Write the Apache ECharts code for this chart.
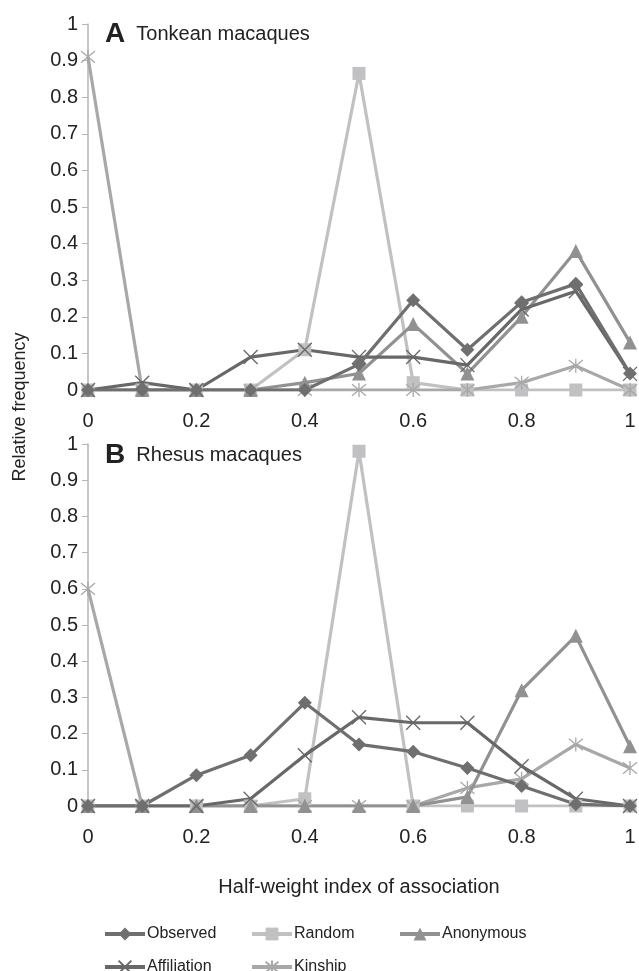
<!DOCTYPE html>
<html>
<head>
<meta charset="utf-8">
<script src="https://cdn.jsdelivr.net/npm/echarts@6/dist/echarts.min.js"></script>
<style>
  html, body { margin: 0; padding: 0; background: #fff; }
  #myChart { width: 639px; height: 971px; }
</style>
</head>
<body>
<div id="myChart"></div>
<script>
// half-weight index bins
const xs = [0, 0.1, 0.2, 0.3, 0.4, 0.5, 0.6, 0.7, 0.8, 0.9, 1];

// A  Tonkean macaques
const tonkeanObserved    = [0, 0, 0, 0, 0, 0.07, 0.245, 0.11, 0.24, 0.29, 0.045];
const tonkeanRandom      = [0, 0, 0, 0, 0.11, 0.865, 0.02, 0, 0, 0, 0];
const tonkeanAnonymous   = [0, 0, 0, 0, 0.02, 0.045, 0.18, 0.045, 0.2, 0.38, 0.13];
const tonkeanAffiliation = [0, 0.02, 0, 0.09, 0.11, 0.09, 0.09, 0.068, 0.22, 0.27, 0.044];
const tonkeanKinship     = [0.91, 0, 0, 0, 0, 0, 0, 0, 0.02, 0.066, 0];

// B  Rhesus macaques
const rhesusObserved    = [0, 0, 0.085, 0.14, 0.285, 0.17, 0.15, 0.105, 0.055, 0.005, 0];
const rhesusRandom      = [0, 0, 0, 0, 0.02, 0.98, 0, 0, 0, 0, 0];
const rhesusAnonymous   = [0, 0, 0, 0, 0, 0, 0, 0.025, 0.32, 0.47, 0.165];
const rhesusAffiliation = [0, 0, 0, 0.02, 0.14, 0.245, 0.23, 0.23, 0.11, 0.02, 0];
const rhesusKinship     = [0.6, 0, 0, 0, 0, 0, 0, 0.05, 0.075, 0.17, 0.105];

const names = ["Observed", "Random", "Anonymous", "Affiliation", "Kinship"];

const font = "Liberation Sans";
const txt = "#222";

// marker look per series
const look = {
  Observed:    { color: "#6f6f6f", symbol: "diamond", size: 14 },
  Random:      { color: "#c1c1c3", symbol: "rect", size: 13 },
  Anonymous:   { color: "#919191", symbol: "triangle", size: 14 },
  Affiliation: { color: "#686868", symbol: "path://M0,0L10,10M10,0L0,10", size: 14, stroke: true },
  Kinship:     { color: "#a8a8a8", symbol: "path://M0,0L10,10M10,0L0,10M5,-1L5,11", size: 14, stroke: true }
};

function pairs(vals) {
  return xs.map((x, i) => [x, vals[i]]);
}

function makeSeries(name, vals, idx) {
  const l = look[name];
  return {
    name: name,
    type: "line",
    xAxisIndex: idx,
    yAxisIndex: idx,
    data: pairs(vals),
    symbol: l.symbol,
    symbolSize: l.size,
    showAllSymbol: true,
    lineStyle: { color: l.color, width: 3.2 },
    itemStyle: l.stroke
      ? { color: "rgba(0,0,0,0)", borderColor: l.color, borderWidth: 1.3 }
      : { color: l.color, borderWidth: 0 },
    emphasis: { disabled: true },
    animation: false
  };
}

function xAxisOf(idx, withName) {
  return {
    type: "value",
    gridIndex: idx,
    min: 0,
    max: 1,
    interval: 0.2,
    axisLine: { show: false },
    axisTick: { show: false },
    splitLine: { show: false },
    axisLabel: { fontFamily: font, fontSize: 20, color: txt, margin: 21 },
    name: withName ? "Half-weight index of association" : "",
    nameLocation: "middle",
    nameGap: 71,
    nameTextStyle: { fontFamily: font, fontSize: 20, color: txt }
  };
}

function yAxisOf(idx) {
  return {
    type: "value",
    gridIndex: idx,
    min: 0,
    max: 1,
    interval: 0.1,
    axisLine: { show: true, lineStyle: { color: "#b5b5b5", width: 1.5 } },
    axisTick: { show: true, length: 6, lineStyle: { color: "#b5b5b5" } },
    splitLine: { show: false },
    axisLabel: { fontFamily: font, fontSize: 20, color: txt, margin: 10 }
  };
}

const legendPos = [
  [103, 926], [250, 926], [398, 926],
  [103, 959], [250, 959]
];

const chart = echarts.init(document.getElementById("myChart"));
chart.setOption({
  backgroundColor: "#fff",
  animation: false,
  title: [
    {
      text: "{b|A}  Tonkean macaques",
      left: 100,
      top: 15,
      textStyle: {
        fontFamily: font, fontSize: 20, fontWeight: "normal", color: txt,
        rich: { b: { fontFamily: font, fontSize: 28, fontWeight: "bold", color: txt } }
      }
    },
    {
      text: "{b|B}  Rhesus macaques",
      left: 100,
      top: 436,
      textStyle: {
        fontFamily: font, fontSize: 20, fontWeight: "normal", color: txt,
        rich: { b: { fontFamily: font, fontSize: 28, fontWeight: "bold", color: txt } }
      }
    }
  ],
  grid: [
    { left: 88, width: 542, top: 24, height: 366 },
    { left: 88, width: 542, top: 444, height: 362 }
  ],
  xAxis: [xAxisOf(0, false), xAxisOf(1, true)],
  yAxis: [yAxisOf(0), yAxisOf(1)],
  legend: names.map((n, i) => ({
    data: [n],
    left: legendPos[i][0],
    top: legendPos[i][1],
    padding: 0,
    itemWidth: 40,
    itemHeight: 16,
    itemGap: 0,
    selectedMode: false,
    lineStyle: { width: 4 },
    textStyle: { fontFamily: font, fontSize: 16, color: txt, padding: [0, 0, 0, -3] }
  })),
  graphic: [
    {
      type: "text",
      x: 20,
      y: 407,
      rotation: Math.PI / 2,
      style: {
        text: "Relative frequency",
        font: "18px '" + font + "'",
        fill: txt,
        textAlign: "center",
        textVerticalAlign: "middle"
      }
    }
  ],
  series: [
    makeSeries("Random", tonkeanRandom, 0),
    makeSeries("Kinship", tonkeanKinship, 0),
    makeSeries("Anonymous", tonkeanAnonymous, 0),
    makeSeries("Affiliation", tonkeanAffiliation, 0),
    makeSeries("Observed", tonkeanObserved, 0),
    makeSeries("Random", rhesusRandom, 1),
    makeSeries("Kinship", rhesusKinship, 1),
    makeSeries("Anonymous", rhesusAnonymous, 1),
    makeSeries("Affiliation", rhesusAffiliation, 1),
    makeSeries("Observed", rhesusObserved, 1)
  ]
});
</script>
</body>
</html>
